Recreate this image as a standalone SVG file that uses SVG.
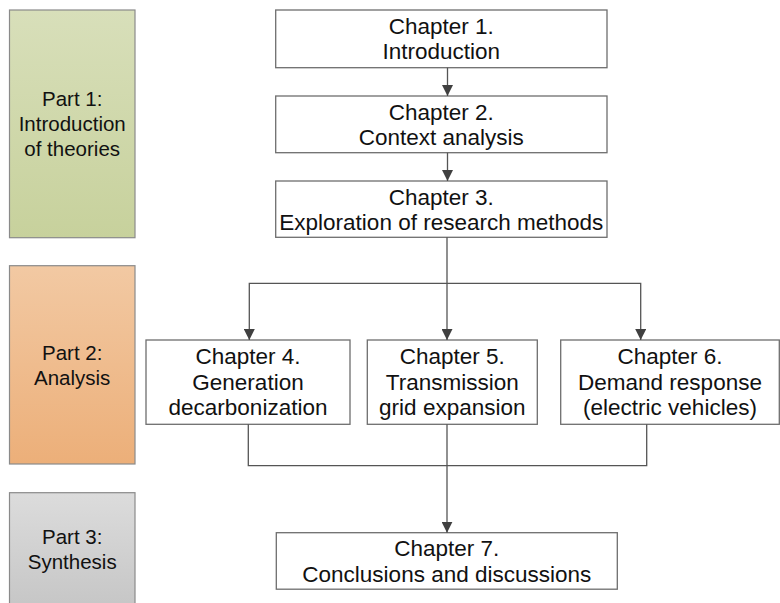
<svg xmlns="http://www.w3.org/2000/svg" width="780" height="603" viewBox="0 0 780 603">
<defs>
<linearGradient id="g1" x1="0" y1="0" x2="0" y2="1"><stop offset="0" stop-color="#d8dfba"/><stop offset="1" stop-color="#c7d19c"/></linearGradient>
<linearGradient id="g2" x1="0" y1="0" x2="0" y2="1"><stop offset="0" stop-color="#f2c9a3"/><stop offset="1" stop-color="#ecaf79"/></linearGradient>
<linearGradient id="g3" x1="0" y1="0" x2="0" y2="1"><stop offset="0" stop-color="#dcdcdc"/><stop offset="1" stop-color="#c4c4c4"/></linearGradient>
<marker id="ah" viewBox="0 0 11 11" refX="11" refY="5.5" markerWidth="11" markerHeight="11" markerUnits="userSpaceOnUse" orient="auto"><path d="M0,0 L11,5.5 L0,11 z" fill="#404040"/></marker>
</defs>
<style>
.part{stroke:#8a8a8a;stroke-width:1.2}
.ch{fill:#ffffff;stroke:#6e6e6e;stroke-width:1.3}
text{font-family:"Liberation Sans",Arial,sans-serif;fill:#111111;text-anchor:middle}
.pt{font-size:20.5px}
.ct{font-size:22.5px}
.con{fill:none;stroke:#555555;stroke-width:1.3}
</style>
<g id="part1"><rect class="part" x="9.5" y="10" width="125.5" height="227.7" fill="url(#g1)"/>
<text class="pt" x="72.2" y="106">Part 1:</text><text class="pt" x="72.2" y="131">Introduction</text><text class="pt" x="72.2" y="156">of theories</text></g>
<g id="part2"><rect class="part" x="9.5" y="265.7" width="125.5" height="198.3" fill="url(#g2)"/>
<text class="pt" x="72.2" y="359.5">Part 2:</text><text class="pt" x="72.2" y="384.5">Analysis</text></g>
<g id="part3"><rect class="part" x="9.5" y="492.7" width="125.5" height="125" fill="url(#g3)"/>
<text class="pt" x="72.2" y="544">Part 3:</text><text class="pt" x="72.2" y="569">Synthesis</text></g>
<g id="ch1"><rect class="ch" x="275.7" y="10" width="331.3" height="57.7"/>
<text class="ct" x="441.3" y="33.5">Chapter 1.</text><text class="ct" x="441.3" y="59">Introduction</text></g>
<g id="ch2"><rect class="ch" x="275.7" y="96" width="331.3" height="56.7"/>
<text class="ct" x="441.3" y="119.5">Chapter 2.</text><text class="ct" x="441.3" y="145">Context analysis</text></g>
<g id="ch3"><rect class="ch" x="275.7" y="181" width="331.3" height="56.3"/>
<text class="ct" x="441.3" y="204.5">Chapter 3.</text><text class="ct" x="441.3" y="230">Exploration of research methods</text></g>
<g id="ch4"><rect class="ch" x="146" y="340" width="204" height="84.3"/>
<text class="ct" x="248" y="364">Chapter 4.</text><text class="ct" x="248" y="389.5">Generation</text><text class="ct" x="248" y="415">decarbonization</text></g>
<g id="ch5"><rect class="ch" x="367.3" y="340" width="170" height="84.3"/>
<text class="ct" x="452.3" y="364">Chapter 5.</text><text class="ct" x="452.3" y="389.5">Transmission</text><text class="ct" x="452.3" y="415">grid expansion</text></g>
<g id="ch6"><rect class="ch" x="560.7" y="340" width="218.6" height="84.3"/>
<text class="ct" x="670" y="364">Chapter 6.</text><text class="ct" x="670" y="389.5">Demand response</text><text class="ct" x="670" y="415">(electric vehicles)</text></g>
<g id="ch7"><rect class="ch" x="276.3" y="532.7" width="341" height="56.5"/>
<text class="ct" x="446.8" y="556">Chapter 7.</text><text class="ct" x="446.8" y="581.5">Conclusions and discussions</text></g>
<g id="connectors">
<path class="con" d="M447.5,67.7 V96" marker-end="url(#ah)"/>
<path class="con" d="M447.5,152.7 V181" marker-end="url(#ah)"/>
<path class="con" d="M447,237.3 V283.3 H249.3 V340" marker-end="url(#ah)"/>
<path class="con" d="M447,283.3 V340" marker-end="url(#ah)"/>
<path class="con" d="M447,283.3 H640.7 V340" marker-end="url(#ah)"/>
<path class="con" d="M248.3,424.3 V465.7 H646.7 V424.3"/>
<path class="con" d="M447,424.3 V532.7" marker-end="url(#ah)"/>
</g>
</svg>
